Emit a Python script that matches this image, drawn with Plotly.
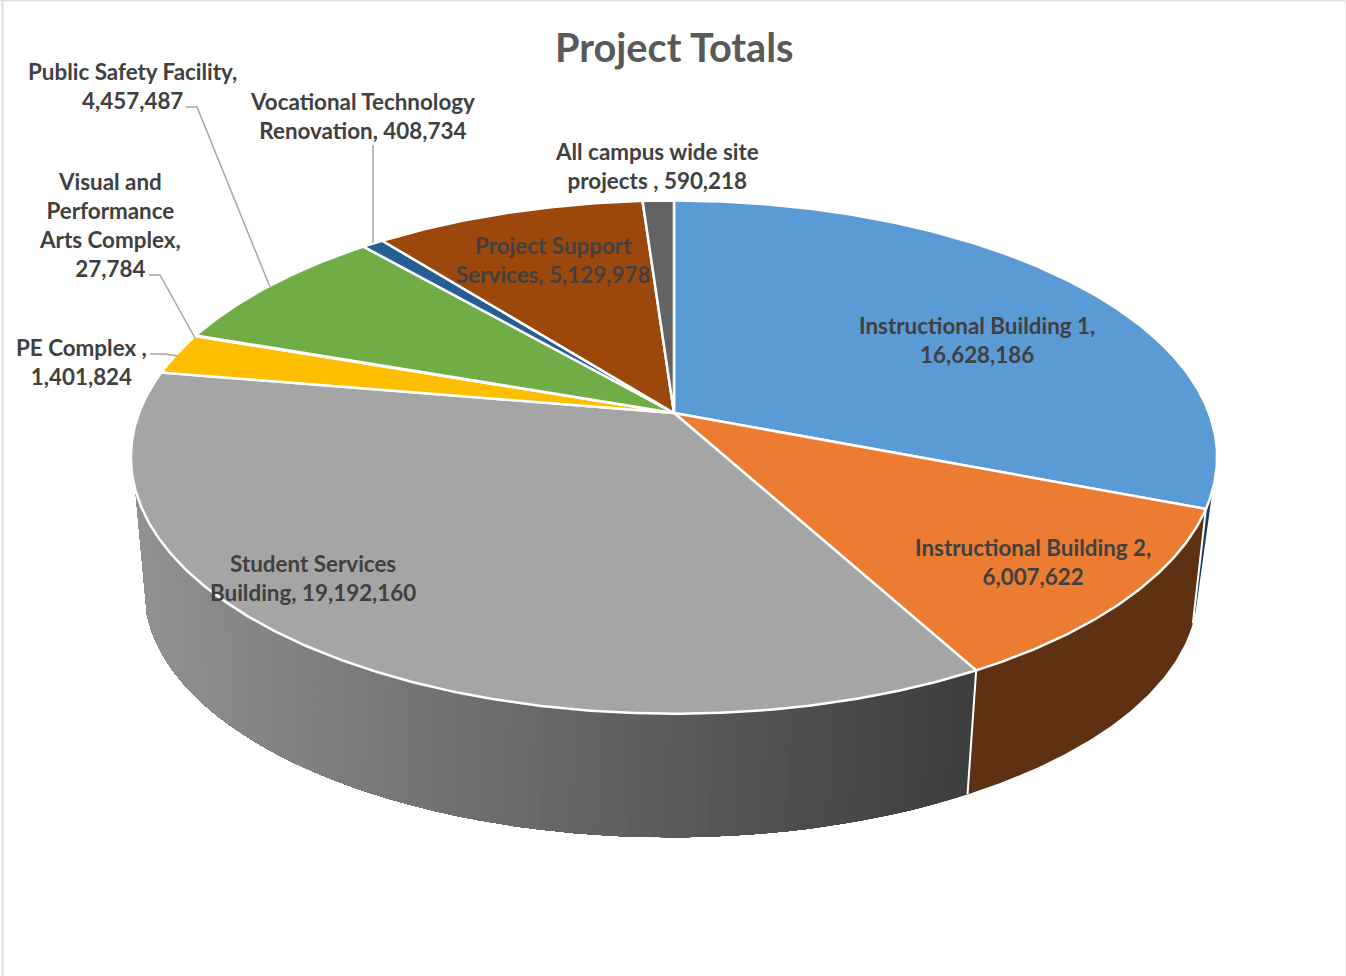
import math
import plotly.graph_objects as go

# ---- data ----
categories = [
    "Instructional Building 1,<br>", "Instructional Building 2,<br>",
    "Student Services<br>Building, ", "PE Complex ,<br>",
    "Visual and<br>Performance<br>Arts Complex,<br>", "Public Safety Facility,<br>",
    "Vocational Technology<br>Renovation, ", "Project Support<br>Services, ",
    "All campus wide site<br>projects , ",
]
values = [16628186, 6007622, 19192160, 1401824, 27784, 4457487, 408734, 5129978, 590218]
title_text = "Project Totals"

# ---- style ----
top_colors = ["#5b9bd5", "#eb7c31", "#a5a5a5", "#fdbf00", "#4472c4", "#70ad47", "#255e91", "#9c470c", "#636363"]
wall_colors = {0: "#1f3c58", 1: "#5e3113"}
grad_left, grad_right = (146, 146, 146), (62, 62, 62)
label_pos = [(977, 340), (1033, 562), (313, 578), (81, 362), (110, 225), (132, 86), (362, 116), (553, 260), (657, 166)]
leaders = [
    [(186, 107), (197, 107), (270, 287)],
    [(373, 145), (373, 243)],
    [(149, 275), (160, 275), (195, 338)],
    [(150, 354), (165, 354), (178, 356)],
]
W, H = 1346, 976
TOP = dict(xc=674, yc=413, A=535, B=249, k=0.172)
BOT = dict(xc=671, yc=541, A=516, B=237, k=0.2)
VIS_R, VIS_L = 107.1, 252.9
WARP = [(107.1, -1.0), (111.0, -2.2), (151.3, 0.4), (252.9, 0.0)]


def warp(deg):
    for (a, da), (b, db) in zip(WARP[:-1], WARP[1:]):
        if a <= deg <= b:
            return deg + da + (db - da) * (deg - a) / (b - a)
    return deg


def proj(deg, p):
    if p is BOT:
        deg = warp(deg)
    t = math.radians(deg)
    u, v = math.sin(t), math.cos(t)
    w = 1 + p["k"] * v
    return p["xc"] + p["A"] * u / w, p["yc"] - p["B"] * v / w


def arc(a, b, p, step=0.5):
    n = max(1, int(abs(b - a) / step))
    return [proj(a + (b - a) * i / n, p) for i in range(n + 1)]


def poly(pts, fill, line=None, lw=0):
    return go.Scatter(
        x=[q[0] for q in pts], y=[q[1] for q in pts], mode="lines", fill="toself",
        fillcolor=fill, line=dict(color=line or fill, width=lw if line else 0),
        hoverinfo="skip", showlegend=False,
    )


total = sum(values)
edges = [0.0]
for val in values:
    edges.append(edges[-1] + val / total * 360)

fig = go.Figure()

# side walls
for i, (a, b) in enumerate(zip(edges[:-1], edges[1:])):
    a2, b2 = max(a, VIS_R), min(b, VIS_L)
    if a2 >= b2:
        continue
    if i == 2:
        # painted from right to left, each band overlapping the rest, so no seams show
        n = int(b2 - a2)
        for s in range(n):
            s0 = a2 + (b2 - a2) * s / n
            s1 = a2 + (b2 - a2) * (s + 1) / n
            xm = proj((s0 + s1) / 2, TOP)[0]
            f = min(1, max(0, (xm - 135) / (965 - 135)))
            c = tuple(int(grad_left[j] + (grad_right[j] - grad_left[j]) * f) for j in range(3))
            col = "rgb(%d,%d,%d)" % c
            fig.add_trace(poly(arc(s0, b2, TOP, 1.0) + arc(b2, s0, BOT, 1.0), col))
    else:
        fig.add_trace(poly(arc(a2, b2, TOP) + arc(b2, a2, BOT), wall_colors[i]))

# white seams on the wall
for deg in edges[1:3]:
    pts = [proj(deg, TOP), proj(deg, BOT)]
    fig.add_trace(go.Scatter(x=[q[0] for q in pts], y=[q[1] for q in pts], mode="lines",
                             line=dict(color="white", width=2), hoverinfo="skip", showlegend=False))

# top slices
for i, (a, b) in enumerate(zip(edges[:-1], edges[1:])):
    apex = (TOP["xc"], TOP["yc"])
    pts = [apex] + arc(a, b, TOP) + [apex]
    fig.add_trace(poly(pts, top_colors[i], "white", 2.5))

# leader lines
for seg in leaders:
    fig.add_trace(go.Scatter(x=[q[0] for q in seg], y=[q[1] for q in seg], mode="lines",
                             line=dict(color="#a6a6a6", width=1.5), hoverinfo="skip", showlegend=False))

font = "Lato, 'Open Sans', sans-serif"
annotations = [
    dict(x=pos[0], y=pos[1], xref="x", yref="y", text=f"<b>{c}{v:,}</b>", showarrow=False,
         align="center", xanchor="center", yanchor="middle",
         font=dict(family=font, size=22.4, color="#404040"))
    for c, v, pos in zip(categories, values, label_pos)
]
annotations.append(dict(x=674, y=46, xref="x", yref="y", text=f"<b>{title_text}</b>", showarrow=False,
                        xanchor="center", yanchor="middle",
                        font=dict(family=font, size=39.7, color="#595959")))

fig.update_layout(
    width=W, height=H, margin=dict(l=0, r=0, t=0, b=0),
    paper_bgcolor="white", plot_bgcolor="white", showlegend=False,
    xaxis=dict(range=[0, W], visible=False, fixedrange=True),
    yaxis=dict(range=[H, 0], visible=False, fixedrange=True),
    annotations=annotations,
    shapes=[
        dict(type="line", xref="x", yref="y", x0=2.5, x1=2.5, y0=0, y1=H, line=dict(color="#dedede", width=2)),
        dict(type="line", xref="x", yref="y", x0=0, x1=W, y0=0.5, y1=0.5, line=dict(color="#dedede", width=2)),
        dict(type="line", xref="x", yref="y", x0=W - 0.5, x1=W - 0.5, y0=0, y1=H, line=dict(color="#ececec", width=1)),
    ],
)
fig.write_html("out.html", config={"displayModeBar": False},
               post_script="document.body.style.margin='0';document.body.style.overflow='hidden';")
